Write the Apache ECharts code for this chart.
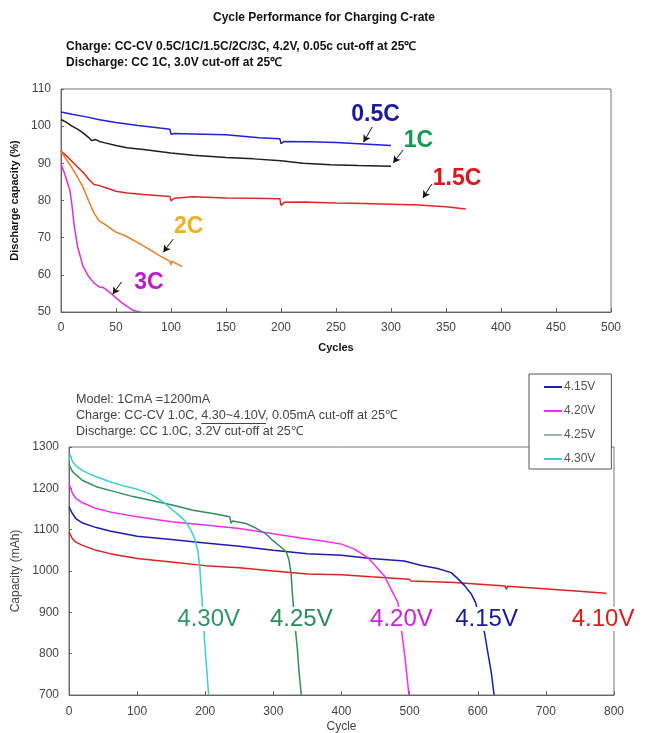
<!DOCTYPE html>
<html>
<head>
<meta charset="utf-8">
<script src="https://cdn.jsdelivr.net/npm/echarts@6/dist/echarts.min.js"></script>
<style>
html,body{margin:0;padding:0;background:#fff;}
#chart{width:648px;height:733px;}
</style>
</head>
<body>
<div id="chart"></div>
<script>
// ---------- Top chart data: Cycle Performance for Charging C-rate ----------
var topXTicks = { min: 0, max: 500, interval: 50 };
var topYTicks = { min: 50, max: 110, interval: 10 };

var c05Cycles = [0,10,23,35,50,70,90,99,100,103,120,150,180,199,200,203,225,250,275,300];
var c05Values = [103.8,103.2,102.5,101.7,101.0,100.2,99.5,99.2,97.8,98.0,97.9,97.7,96.9,96.6,95.3,95.9,95.8,95.6,95.2,94.8];

var c1Cycles = [0,5,10,15,20,25,28,31,35,40,50,60,75,100,120,150,175,200,220,245,270,300];
var c1Values = [101.8,101.0,100.0,99.2,98.2,97.0,96.1,96.4,95.9,95.5,94.8,94.2,93.7,92.8,92.2,91.6,91.2,90.7,90.0,89.6,89.4,89.2];

var c15Cycles = [0,5,10,15,20,25,30,35,40,50,60,75,99,100,103,120,150,175,199,200,203,220,250,275,300,325,350,368];
var c15Values = [93.3,92.0,90.5,89.0,87.6,85.8,84.3,84.0,83.5,82.5,82.0,81.6,81.1,79.9,80.6,81.0,80.7,80.6,80.5,78.7,79.5,79.6,79.3,79.2,79.0,78.8,78.3,77.7];

var c2Cycles = [0,5,10,15,20,25,30,35,40,50,60,75,90,99,100,101,110];
var c2Values = [93.2,91.0,88.8,86.3,83.6,80.0,76.6,74.4,73.6,71.5,70.3,67.8,65.1,63.6,62.7,63.7,62.2];

var c3Cycles = [0,3,5,8,10,12,15,20,25,30,35,38,40,45,50,55,60,66,72];
var c3Values = [89.8,87.5,85.6,82.9,78.6,73.2,67.7,62.3,59.6,57.8,56.7,56.6,56.3,55.1,53.8,52.6,51.5,50.4,50.0];

// annotations (data coordinates)
var topLabelTexts = ['0.5C','1C','1.5C','2C','3C'];
var topLabelCycles = [286,325,360,116,80];
var topLabelValues = [103,96,86,73,57.8];
var topArrowFrom = [[283,99.8],[311,93.6],[337,84.4],[102,69.6],[55,58.1]];
var topArrowTo   = [[275,95.7],[302,90.1],[329,80.7],[93,66.1],[47,54.8]];

// ---------- Bottom chart data: Capacity vs Cycle for charge voltages ----------
var botXTicks = { min: 0, max: 800, interval: 100 };
var botYTicks = { min: 700, max: 1300, interval: 100 };

var v410Cycles = [0,5,10,20,40,60,100,150,200,250,300,350,400,443,499,502,566,640,642,644,713,789];
var v410Values = [1095,1078,1070,1062,1050,1042,1030,1022,1013,1008,1000,993,991,986,980,976,972,964,956,963,955,946];

var v415Cycles = [0,5,10,20,40,60,100,150,200,250,300,350,400,443,492,516,541,561,571,581,591,597,603,610,615,620,624];
var v415Values = [1155,1139,1127,1116,1105,1097,1084,1076,1068,1060,1050,1042,1038,1030,1024,1014,1006,996,981,964,943,923,882,850,801,753,700];

var v420Cycles = [0,5,10,20,40,60,80,100,150,200,250,300,340,370,400,419,438,450,463,473,483,488,493,499];
var v420Values = [1212,1188,1176,1165,1151,1143,1137,1131,1119,1111,1103,1090,1080,1073,1065,1053,1033,1012,988,955,923,858,793,700];

var v425Cycles = [0,5,10,20,40,60,94,123,153,182,211,236,238,240,260,275,289,299,311,319,323,326,328,331,335,338,341];
var v425Values = [1257,1241,1233,1219,1204,1195,1180,1170,1159,1147,1139,1131,1115,1121,1115,1103,1090,1074,1058,1046,1026,993,944,880,815,750,700];

var v430Cycles = [0,2,5,10,20,30,40,50,60,70,80,90,100,110,120,130,140,150,160,170,175,180,185,189,192,194,197,199,202,205];
var v430Values = [1268,1281,1265,1255,1243,1235,1228,1222,1216,1211,1206,1202,1198,1192,1186,1176,1165,1150,1137,1122,1110,1095,1075,1050,1010,955,895,830,765,700];

var botLabelTexts = ['4.30V','4.25V','4.20V','4.15V','4.10V'];
var botLabelCycles = [205,341,488,613,784];
var botLabelValues = [884,884,884,884,884];
var legendNames = ['4.15V','4.20V','4.25V','4.30V'];

// ---------- styles ----------
var FONT = '"Liberation Sans", Arial, Helvetica, sans-serif';
var topColors = { '0.5C':'#2020dc', '1C':'#1e1e1e', '1.5C':'#e02626', '2C':'#f07a22', '3C':'#e02de0' };
var topLabelColors = ['#1717a8','#169a50','#e01515','#f2b020','#c218d0'];
var botColors = { '4.10V':'#e0201f', '4.15V':'#1c1cae', '4.20V':'#f02ef0', '4.25V':'#2e8e5c', '4.30V':'#3ccfcf' };
var botLabelColors = ['#2f9666','#2a8c5a','#cc1fdc','#1818a0','#dd1c1c'];

function zip(a,b){ var r=[]; for(var i=0;i<a.length;i++) r.push([a[i],b[i]]); return r; }

var chart = echarts.init(document.getElementById('chart'), null, {renderer:'canvas'});

function lineSeries(name, cyc, val, color, idx, width){
  return {
    name: name, type: 'line', xAxisIndex: idx, yAxisIndex: idx,
    data: zip(cyc, val), showSymbol: false, symbol: 'none',
    lineStyle: { color: color, width: width }, itemStyle: { color: color },
    z: 2, silent: true, animation: false, clip: true
  };
}

var series = [
  lineSeries('0.5C', c05Cycles, c05Values, topColors['0.5C'], 0, 1.5),
  lineSeries('1C', c1Cycles, c1Values, topColors['1C'], 0, 1.5),
  lineSeries('1.5C', c15Cycles, c15Values, topColors['1.5C'], 0, 1.5),
  lineSeries('2C', c2Cycles, c2Values, topColors['2C'], 0, 1.5),
  lineSeries('3C', c3Cycles, c3Values, topColors['3C'], 0, 1.5),
  lineSeries('4.10V', v410Cycles, v410Values, botColors['4.10V'], 1, 1.5),
  lineSeries('4.15V', v415Cycles, v415Values, botColors['4.15V'], 1, 1.5),
  lineSeries('4.20V', v420Cycles, v420Values, botColors['4.20V'], 1, 1.5),
  lineSeries('4.25V', v425Cycles, v425Values, botColors['4.25V'], 1, 1.5),
  lineSeries('4.30V', v430Cycles, v430Values, botColors['4.30V'], 1, 1.5)
];

// top labels + arrows
var topLabelData = topLabelTexts.map(function(t,i){
  return { name: t, value: [topLabelCycles[i], topLabelValues[i]],
    label: { color: topLabelColors[i] } };
});
var arrowData = topArrowFrom.map(function(f,i){
  return [{ coord: f }, { coord: topArrowTo[i] }];
});
series.push({
  name: 'topLabels', type: 'scatter', xAxisIndex: 0, yAxisIndex: 0,
  data: topLabelData, symbolSize: 0, silent: true, z: 10, animation: false,
  itemStyle: { opacity: 1 },
  label: { show: true, position: 'inside', formatter: '{b}', opacity: 1,
    textBorderWidth: 0, textShadowBlur: 0,
    fontFamily: FONT, fontWeight: 'bold', fontSize: 23 },
  markLine: {
    silent: true, animation: false, symbol: ['none','arrow'], symbolSize: [6,7],
    lineStyle: { color: '#111', width: 1, type: 'solid', opacity: 1 },
    label: { show: false }, emphasis: { disabled: true },
    data: arrowData
  }
});

var botLabelData = botLabelTexts.map(function(t,i){
  return { name: t, value: [botLabelCycles[i], botLabelValues[i]],
    label: { color: botLabelColors[i] } };
});
series.push({
  name: 'botLabels', type: 'scatter', xAxisIndex: 1, yAxisIndex: 1,
  data: botLabelData, symbolSize: 0, silent: true, z: 10, animation: false,
  itemStyle: { opacity: 1 },
  label: { show: true, position: 'inside', formatter: '{b}', opacity: 1,
    textBorderWidth: 0, textShadowBlur: 0,
    fontFamily: FONT, fontSize: 24, backgroundColor: '#fff', padding: [0,1] }
});

var axisLbl = { color: '#444', fontFamily: FONT, fontSize: 12, formatter: function(v){ return String(v); } };

// measure for underline
var mctx = document.createElement('canvas').getContext('2d');
var smallFont = '12.6px ' + FONT;
mctx.font = smallFont;
var chargePrefix = 'Charge: CC-CV 1.0C, ';
var chargeUnder = '4.30~4.10V';
var ulX0 = 76 + mctx.measureText(chargePrefix).width;
var ulX1 = ulX0 + mctx.measureText(chargeUnder).width;

function txt(text, x, y, font, fill, align){
  return { type: 'text', x: x, y: y, silent: true, z: 100,
    style: { text: text, font: font, fill: fill,
      textAlign: align || 'left', align: align || 'left',
      textVerticalAlign: 'middle', verticalAlign: 'middle' } };
}

var option = {
  backgroundColor: '#fff',
  animation: false,
  textStyle: { fontFamily: FONT },
  grid: [
    { left: 61, top: 89, width: 550, height: 223, show: true, borderColor: '#777', borderWidth: 1, backgroundColor: 'transparent', containLabel: false, outerBoundsMode: 'none' },
    { left: 69, top: 447, width: 545, height: 248, show: true, borderColor: '#777', borderWidth: 1, backgroundColor: 'transparent', containLabel: false, outerBoundsMode: 'none' }
  ],
  xAxis: [
    { type: 'value', gridIndex: 0, min: topXTicks.min, max: topXTicks.max, interval: topXTicks.interval,
      name: 'Cycles', nameLocation: 'middle', nameGap: 30,
      nameTextStyle: { color: '#111', fontWeight: 'bold', fontSize: 11, fontFamily: FONT },
      axisLine: { show: true, lineStyle: { color: '#666' } },
      axisTick: { show: true, inside: true, length: 4, lineStyle: { color: '#666' } },
      axisLabel: Object.assign({ margin: 10 }, axisLbl),
      splitLine: { show: false } },
    { type: 'value', gridIndex: 1, min: botXTicks.min, max: botXTicks.max, interval: botXTicks.interval,
      name: 'Cycle', nameLocation: 'middle', nameGap: 26,
      nameTextStyle: { color: '#444', fontSize: 12, fontFamily: FONT },
      axisLine: { show: true, lineStyle: { color: '#666' } },
      axisTick: { show: true, inside: true, length: 4, lineStyle: { color: '#666' } },
      axisLabel: Object.assign({ margin: 11 }, axisLbl),
      splitLine: { show: false } }
  ],
  yAxis: [
    { type: 'value', gridIndex: 0, min: topYTicks.min, max: topYTicks.max, interval: topYTicks.interval,
      name: 'Discharge capacity (%)', nameLocation: 'middle', nameGap: 31, nameRotate: 90,
      nameTextStyle: { color: '#111', fontWeight: 'bold', fontSize: 11, fontFamily: FONT },
      axisLine: { show: true, lineStyle: { color: '#666' } },
      axisTick: { show: true, inside: true, length: 3, lineStyle: { color: '#666' } },
      axisLabel: Object.assign({ margin: 10 }, axisLbl),
      splitLine: { show: false } },
    { type: 'value', gridIndex: 1, min: botYTicks.min, max: botYTicks.max, interval: botYTicks.interval,
      name: 'Capacity (mAh)', nameLocation: 'middle', nameGap: 38, nameRotate: 90,
      nameTextStyle: { color: '#444', fontSize: 12, fontFamily: FONT },
      axisLine: { show: true, lineStyle: { color: '#666' } },
      axisTick: { show: true, inside: true, length: 3, lineStyle: { color: '#666' } },
      axisLabel: Object.assign({ margin: 10 }, axisLbl),
      splitLine: { show: false } }
  ],
  legend: {
    show: true, orient: 'vertical', left: 529, top: 374,
    data: legendNames.map(function(n){
      return n === '4.25V' ? { name: n, itemStyle: { color: '#8fbfab' }, lineStyle: { color: '#8fbfab' } } : { name: n };
    }),
    icon: 'rect', itemWidth: 18, itemHeight: 2, itemGap: 10,
    padding: [6, 16, 3, 15],
    backgroundColor: '#fff', borderColor: '#555', borderWidth: 1, borderRadius: 0,
    textStyle: { color: '#555', fontSize: 12, fontFamily: FONT, lineHeight: 14, padding: [0,0,0,-3] },
    selectedMode: false, z: 20
  },
  graphic: [
    txt('Cycle Performance for Charging C-rate', 324, 18, 'bold 12px ' + FONT, '#111', 'center'),
    txt('Charge: CC-CV 0.5C/1C/1.5C/2C/3C, 4.2V, 0.05c cut-off at 25℃', 66, 47, 'bold 12px ' + FONT, '#111'),
    txt('Discharge: CC 1C, 3.0V cut-off at 25℃', 66, 63, 'bold 12px ' + FONT, '#111'),
    txt('Model: 1CmA =1200mA', 76, 400, smallFont, '#444'),
    txt('Charge: CC-CV 1.0C, 4.30~4.10V, 0.05mA cut-off at 25℃', 76, 416, smallFont, '#444'),
    txt('Discharge: CC 1.0C, 3.2V cut-off at 25℃', 76, 432, smallFont, '#444'),
    { type: 'line', silent: true, z: 100,
      shape: { x1: ulX0, y1: 423.5, x2: ulX1, y2: 423.5 },
      style: { stroke: '#444', lineWidth: 1 } }
  ],
  series: series
};

chart.setOption(option);
</script>
</body>
</html>
